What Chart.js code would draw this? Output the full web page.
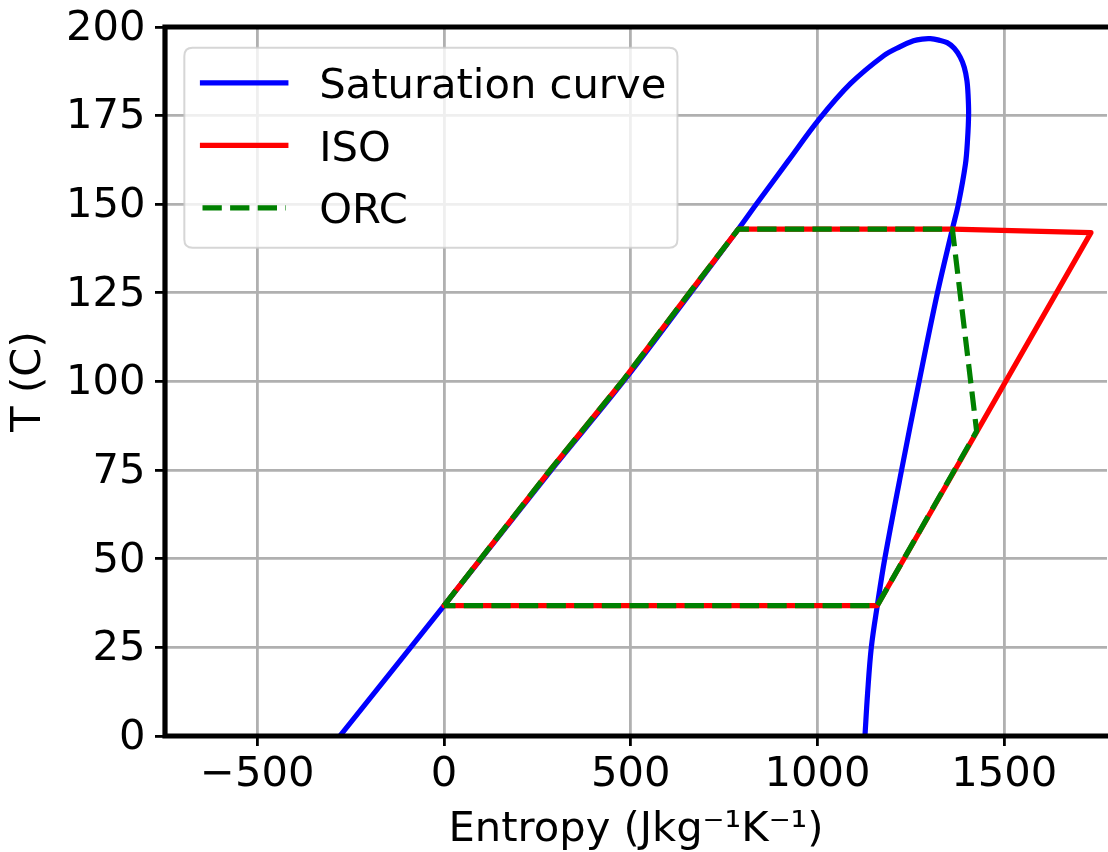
<!DOCTYPE html>
<html>
<head>
<meta charset="utf-8">
<script src="https://cdn.jsdelivr.net/npm/chart.js@4.4.1/dist/chart.umd.min.js"></script>
<style>
  html, body { margin: 0; padding: 0; background: #fff; overflow: hidden; }
  #wrap { width: 1108px; height: 852px; }
  canvas { display: block; }
</style>
</head>
<body>
<div id="wrap"><canvas id="c" width="1108" height="852"></canvas></div>
<script>
// ---- data (entropy s in J/kg/K, temperature T in C) ----
const satS = [-279, 0, 287, 480, 660, 788, 836, 922, 1003, 1088, 1177, 1220, 1257, 1280, 1302, 1325, 1347, 1366, 1382, 1393, 1400, 1403, 1404.5, 1401.5, 1396, 1377, 1361, 1321, 1272, 1225, 1180, 1160, 1144, 1134, 1127];
const satT = [0, 36.8, 75, 100, 125, 143, 150, 162.3, 173.8, 184, 191.9, 194.4, 196.1, 196.6, 196.7, 196.3, 195.6, 194.0, 191.5, 188.6, 184.9, 181, 175.5, 168, 161.3, 150, 143, 125, 100, 75, 50, 36.8, 25, 12, 0];

const isoS = [0, 284, 477, 657, 788, 1361, 1732, 1160, 0];
const isoT = [36.8, 75, 100, 125, 143, 143, 142, 36.8, 36.8];

const orcS = [0, 284, 477, 657, 788, 1361, 1426, 1160, 0];
const orcT = [36.8, 75, 100, 125, 143, 143, 86, 36.8, 36.8];

const seriesLabels = ['Saturation curve', 'ISO', 'ORC'];

const xTicks = [-500, 0, 500, 1000, 1500];
const xTickLabels = ['\u2212500', '0', '500', '1000', '1500'];
const yTicks = [0, 25, 50, 75, 100, 125, 150, 175, 200];
const yTickLabels = ['0', '25', '50', '75', '100', '125', '150', '175', '200'];

const xTitle = 'Entropy (Jkg\u207B\u00B9K\u207B\u00B9)';
const yTitle = 'T (C)';

// ---- styling ----
const FS = 41.67;
const FAMILY = '"DejaVu Sans", sans-serif';
const LW = 5.2;
const DASH = [19.3, 8.3];

function pts(xs, ys) { return xs.map((x, i) => ({ x: x, y: ys[i] })); }

Chart.defaults.font.family = FAMILY;
Chart.defaults.color = '#000';

function drawMplLegend(chart, itemsIn) {
  const items = itemsIn.slice().sort((a, b) => a.datasetIndex - b.datasetIndex);
  const ctx = chart.ctx, ca = chart.chartArea;
  const fs = FS;
  const pad = 0.4 * fs, spacing = 0.5 * fs, hl = 2 * fs, htp = 0.8 * fs, axpad = 0.5 * fs, rowH = fs;
  ctx.save();
  ctx.font = fs + 'px ' + FAMILY;
  let tw = 0;
  items.forEach(it => { tw = Math.max(tw, ctx.measureText(it.text).width); });
  const x0 = ca.left + axpad - 1.5, y0 = ca.top + axpad;
  const w = pad + hl + htp + tw + pad - 4;
  const h = 2 * pad + items.length * rowH + (items.length - 1) * spacing;
  const r = 0.2 * fs;
  ctx.beginPath();
  ctx.moveTo(x0 + r, y0);
  ctx.lineTo(x0 + w - r, y0);
  ctx.quadraticCurveTo(x0 + w, y0, x0 + w, y0 + r);
  ctx.lineTo(x0 + w, y0 + h - r);
  ctx.quadraticCurveTo(x0 + w, y0 + h, x0 + w - r, y0 + h);
  ctx.lineTo(x0 + r, y0 + h);
  ctx.quadraticCurveTo(x0, y0 + h, x0, y0 + h - r);
  ctx.lineTo(x0, y0 + r);
  ctx.quadraticCurveTo(x0, y0, x0 + r, y0);
  ctx.closePath();
  ctx.fillStyle = 'rgba(255,255,255,0.8)';
  ctx.fill();
  ctx.lineWidth = 2;
  ctx.strokeStyle = 'rgba(204,204,204,0.8)';
  ctx.stroke();

  items.forEach((it, i) => {
    const cy = y0 + pad + i * (rowH + spacing) + rowH / 2 - 2.5;
    const hx = x0 + pad + 1.5;
    const dash = it.lineDash || [];
    ctx.save();
    ctx.setLineDash(dash);
    ctx.lineDashOffset = 0;
    ctx.lineCap = dash.length ? 'butt' : 'square';
    ctx.lineWidth = it.lineWidth || LW;
    ctx.strokeStyle = it.strokeStyle;
    ctx.beginPath();
    ctx.moveTo(hx, cy);
    ctx.lineTo(hx + hl, cy);
    ctx.stroke();
    ctx.restore();
    ctx.fillStyle = '#000';
    ctx.textAlign = 'left';
    ctx.textBaseline = 'alphabetic';
    ctx.fillText(it.text, hx + hl + htp, cy + 0.729 * fs / 2);
  });
  ctx.restore();
}

const mplPlugin = {
  id: 'mplLook',
  afterLayout(chart) {
    const lg = chart.legend;
    if (lg && !lg._mplPatched) {
      lg._mplPatched = true;
      lg.draw = function () { drawMplLegend(chart, this.legendItems || []); };
    }
  },
  afterDatasetsDraw(chart) {
    const ctx = chart.ctx, ca = chart.chartArea;
    ctx.save();
    ctx.strokeStyle = '#000';
    ctx.lineWidth = 5.2;
    ctx.lineCap = 'square';
    ctx.beginPath();
    ctx.moveTo(ca.left, ca.bottom);
    ctx.lineTo(ca.left, ca.top);
    ctx.lineTo(ca.right + 10, ca.top);
    ctx.moveTo(ca.left, ca.bottom);
    ctx.lineTo(ca.right + 10, ca.bottom);
    ctx.stroke();
    ctx.restore();
  }
};

new Chart(document.getElementById('c'), {
  type: 'scatter',
  data: {
    datasets: [
      { label: seriesLabels[0], data: pts(satS, satT), showLine: true, borderColor: '#0000ff', backgroundColor: '#0000ff',
        borderWidth: LW, pointRadius: 0, tension: 0.35, borderJoinStyle: 'round', borderCapStyle: 'butt', clip: 0, order: 3 },
      { label: seriesLabels[1], data: pts(isoS, isoT), showLine: true, borderColor: '#ff0000', backgroundColor: '#ff0000',
        borderWidth: LW, pointRadius: 0, tension: 0, borderJoinStyle: 'round', borderCapStyle: 'round', clip: 0, order: 2 },
      { label: seriesLabels[2], data: pts(orcS, orcT), showLine: true, borderColor: '#008000', backgroundColor: '#008000',
        borderWidth: LW, borderDash: DASH, pointRadius: 0, tension: 0, borderJoinStyle: 'round', borderCapStyle: 'butt', clip: 0, order: 1 }
    ]
  },
  options: {
    responsive: false,
    animation: false,
    devicePixelRatio: 1,
    events: [],
    layout: { padding: { top: 27, right: 1, left: 0, bottom: 0 } },
    scales: {
      x: {
        type: 'linear', min: -747, max: 1775,
        afterBuildTicks: (a) => { a.ticks = xTicks.map(v => ({ value: v })); },
        afterFit: (s) => { s.height = 116; s.paddingLeft = 0; s.paddingRight = 0; },
        grid: { color: '#b0b0b0', lineWidth: 2.8, drawTicks: true, tickLength: 10, tickColor: '#000', tickWidth: 2.8 },
        border: { display: false },
        ticks: { color: '#000', font: { size: FS, family: FAMILY }, padding: 4, maxRotation: 0, autoSkip: false,
                 callback: (v) => { const i = xTicks.indexOf(v); return i >= 0 ? xTickLabels[i] : ''; } },
        title: { display: true, text: xTitle, color: '#000', font: { size: FS, family: FAMILY, lineHeight: 1.2 }, padding: { top: 0, bottom: -3 } }
      },
      y: {
        type: 'linear', min: 0, max: 200,
        afterBuildTicks: (a) => { a.ticks = yTicks.map(v => ({ value: v })); },
        afterFit: (s) => { s.width = 165; s.paddingTop = 0; s.paddingBottom = 0; },
        grid: { color: '#b0b0b0', lineWidth: 2.8, drawTicks: true, tickLength: 10, tickColor: '#000', tickWidth: 2.8 },
        border: { display: false },
        ticks: { color: '#000', font: { size: FS, family: FAMILY }, padding: 9.5, autoSkip: false, labelOffset: 2,
                 callback: (v) => { const i = yTicks.indexOf(v); return i >= 0 ? yTickLabels[i] : ''; } },
        title: { display: true, text: yTitle, color: '#000', font: { size: FS, family: FAMILY, lineHeight: 1.2 }, padding: { top: 4, bottom: 0 } }
      }
    },
    plugins: {
      legend: { display: true, position: 'chartArea', align: 'start' },
      tooltip: { enabled: false }
    }
  },
  plugins: [mplPlugin]
});
</script>
</body>
</html>
